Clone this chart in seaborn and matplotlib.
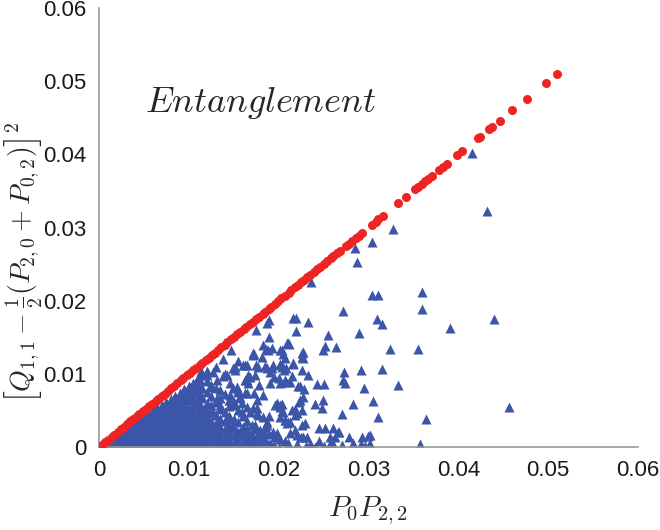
import pandas as pd
import matplotlib
matplotlib.use("Agg")
import matplotlib.pyplot as plt
import seaborn as sns

# red dots: states on the boundary, each sits on the diagonal (x == y)
red_diag = [
    0.0000, 0.0003, 0.0007, 0.0010, 0.0014, 0.0017, 0.0021, 0.0024, 0.0028, 0.0031,
    0.0035, 0.0038, 0.0042, 0.0045, 0.0049, 0.0052, 0.0056, 0.0059, 0.0063, 0.0066,
    0.0070, 0.0073, 0.0077, 0.0080, 0.0084, 0.0087, 0.0091, 0.0094, 0.0098, 0.0101,
    0.0105, 0.0108, 0.0112, 0.0115, 0.0119, 0.0122, 0.0126, 0.0129, 0.0133, 0.0136,
    0.0140, 0.0143, 0.0147, 0.0150, 0.0154, 0.0157, 0.0161, 0.0164, 0.0168, 0.0171,
    0.0175, 0.0178, 0.0182, 0.0185, 0.0189, 0.0192, 0.0196, 0.0199, 0.0203, 0.0207,
    0.0211, 0.0214, 0.0218, 0.0221, 0.0225, 0.0228, 0.0232, 0.0235, 0.0239, 0.0243,
    0.0246, 0.0250, 0.0254, 0.0258, 0.0261, 0.0265, 0.0268, 0.0275, 0.0278, 0.0282,
    0.0286, 0.0289, 0.0293, 0.0304, 0.0308, 0.0311, 0.0316, 0.0333, 0.0342, 0.0352,
    0.0355, 0.0360, 0.0363, 0.0366, 0.0371, 0.0379, 0.0383, 0.0387, 0.0399, 0.0404,
    0.0422, 0.0424, 0.0434, 0.0437, 0.0446, 0.0460, 0.0476, 0.0498, 0.0510,
]

# blue triangles: dense cloud near the origin
blue_dense = [
    (0.0005, 0.0000), (0.0005, 0.0003), (0.0010, 0.0000), (0.0010, 0.0004), (0.0010, 0.0008),
    (0.0015, 0.0000), (0.0015, 0.0005), (0.0015, 0.0010), (0.0020, 0.0000), (0.0020, 0.0006),
    (0.0020, 0.0012), (0.0020, 0.0017), (0.0025, 0.0002), (0.0025, 0.0008), (0.0025, 0.0014),
    (0.0025, 0.0020), (0.0030, 0.0000), (0.0030, 0.0006), (0.0030, 0.0012), (0.0030, 0.0018),
    (0.0030, 0.0024), (0.0035, 0.0003), (0.0035, 0.0009), (0.0035, 0.0015), (0.0035, 0.0021),
    (0.0035, 0.0028), (0.0040, 0.0000), (0.0040, 0.0006), (0.0040, 0.0012), (0.0040, 0.0018),
    (0.0040, 0.0024), (0.0040, 0.0031), (0.0040, 0.0035), (0.0045, 0.0003), (0.0045, 0.0009),
    (0.0045, 0.0015), (0.0045, 0.0021), (0.0045, 0.0027), (0.0045, 0.0033), (0.0045, 0.0039),
    (0.0050, 0.0000), (0.0050, 0.0006), (0.0050, 0.0012), (0.0050, 0.0018), (0.0050, 0.0024),
    (0.0050, 0.0030), (0.0050, 0.0036), (0.0050, 0.0043), (0.0055, 0.0003), (0.0055, 0.0009),
    (0.0055, 0.0015), (0.0055, 0.0021), (0.0055, 0.0027), (0.0055, 0.0033), (0.0055, 0.0039),
    (0.0055, 0.0046), (0.0060, 0.0000), (0.0060, 0.0006), (0.0060, 0.0012), (0.0060, 0.0018),
    (0.0060, 0.0024), (0.0060, 0.0030), (0.0060, 0.0036), (0.0060, 0.0042), (0.0060, 0.0050),
    (0.0065, 0.0003), (0.0065, 0.0009), (0.0065, 0.0015), (0.0065, 0.0021), (0.0065, 0.0027),
    (0.0065, 0.0033), (0.0065, 0.0040), (0.0065, 0.0047), (0.0065, 0.0054), (0.0070, 0.0000),
    (0.0070, 0.0006), (0.0070, 0.0012), (0.0070, 0.0018), (0.0070, 0.0024), (0.0070, 0.0030),
    (0.0070, 0.0037), (0.0070, 0.0044), (0.0070, 0.0051), (0.0070, 0.0058), (0.0075, 0.0003),
    (0.0075, 0.0009), (0.0075, 0.0015), (0.0075, 0.0022), (0.0075, 0.0029), (0.0075, 0.0035),
    (0.0075, 0.0042), (0.0075, 0.0049), (0.0075, 0.0056), (0.0075, 0.0062), (0.0080, 0.0000),
    (0.0080, 0.0006), (0.0080, 0.0012), (0.0080, 0.0019), (0.0080, 0.0026), (0.0080, 0.0033),
    (0.0080, 0.0040), (0.0080, 0.0047), (0.0080, 0.0054), (0.0080, 0.0060), (0.0080, 0.0066),
    (0.0085, 0.0003), (0.0085, 0.0009), (0.0085, 0.0016), (0.0085, 0.0023), (0.0085, 0.0031),
    (0.0085, 0.0038), (0.0085, 0.0045), (0.0085, 0.0052), (0.0085, 0.0058), (0.0085, 0.0064),
    (0.0085, 0.0070), (0.0090, 0.0000), (0.0090, 0.0006), (0.0090, 0.0013), (0.0090, 0.0020),
    (0.0090, 0.0028), (0.0090, 0.0036), (0.0090, 0.0043), (0.0090, 0.0050), (0.0090, 0.0057),
    (0.0090, 0.0062), (0.0090, 0.0068), (0.0090, 0.0074), (0.0095, 0.0003), (0.0095, 0.0010),
    (0.0095, 0.0017), (0.0095, 0.0025), (0.0095, 0.0033), (0.0095, 0.0041), (0.0095, 0.0048),
    (0.0095, 0.0055), (0.0095, 0.0060), (0.0095, 0.0066), (0.0095, 0.0072), (0.0095, 0.0079),
    (0.0100, 0.0000), (0.0100, 0.0006), (0.0100, 0.0013), (0.0100, 0.0021), (0.0100, 0.0029),
    (0.0100, 0.0038), (0.0100, 0.0045), (0.0100, 0.0053), (0.0100, 0.0064), (0.0100, 0.0070),
    (0.0100, 0.0076), (0.0100, 0.0084), (0.0105, 0.0003), (0.0105, 0.0010), (0.0105, 0.0017),
    (0.0105, 0.0025), (0.0105, 0.0034), (0.0105, 0.0042), (0.0105, 0.0050), (0.0105, 0.0058),
    (0.0105, 0.0067), (0.0105, 0.0075), (0.0105, 0.0088), (0.0110, 0.0000), (0.0110, 0.0007),
    (0.0110, 0.0014), (0.0110, 0.0022), (0.0110, 0.0030), (0.0110, 0.0039), (0.0110, 0.0047),
    (0.0110, 0.0056), (0.0110, 0.0063), (0.0110, 0.0072), (0.0110, 0.0086), (0.0110, 0.0094),
    (0.0115, 0.0003), (0.0115, 0.0010), (0.0115, 0.0018), (0.0115, 0.0026), (0.0115, 0.0035),
    (0.0115, 0.0044), (0.0115, 0.0053), (0.0115, 0.0068), (0.0115, 0.0080), (0.0115, 0.0098),
    (0.0120, 0.0000), (0.0120, 0.0007), (0.0120, 0.0014), (0.0120, 0.0022), (0.0120, 0.0031),
    (0.0120, 0.0040), (0.0120, 0.0050), (0.0120, 0.0060), (0.0120, 0.0075), (0.0120, 0.0090),
    (0.0120, 0.0104), (0.0125, 0.0003), (0.0125, 0.0010), (0.0125, 0.0018), (0.0125, 0.0027),
    (0.0125, 0.0036), (0.0125, 0.0046), (0.0125, 0.0058), (0.0125, 0.0070), (0.0125, 0.0085),
    (0.0130, 0.0000), (0.0130, 0.0007), (0.0130, 0.0015), (0.0130, 0.0023), (0.0130, 0.0033),
    (0.0130, 0.0044), (0.0130, 0.0062), (0.0130, 0.0080), (0.0130, 0.0110), (0.0135, 0.0003),
    (0.0135, 0.0011), (0.0135, 0.0019), (0.0135, 0.0028), (0.0135, 0.0038), (0.0135, 0.0052),
    (0.0135, 0.0067), (0.0140, 0.0000), (0.0140, 0.0007), (0.0140, 0.0015), (0.0140, 0.0024),
    (0.0140, 0.0035), (0.0140, 0.0048), (0.0140, 0.0072), (0.0140, 0.0100), (0.0145, 0.0003),
    (0.0145, 0.0011), (0.0145, 0.0020), (0.0145, 0.0030), (0.0145, 0.0042), (0.0145, 0.0056),
    (0.0150, 0.0000), (0.0150, 0.0007), (0.0150, 0.0016), (0.0150, 0.0026), (0.0150, 0.0038),
    (0.0150, 0.0062), (0.0155, 0.0003), (0.0155, 0.0011), (0.0155, 0.0021), (0.0155, 0.0034),
    (0.0155, 0.0050), (0.0160, 0.0000), (0.0160, 0.0007), (0.0160, 0.0016), (0.0160, 0.0028),
    (0.0160, 0.0043), (0.0165, 0.0003), (0.0165, 0.0011), (0.0165, 0.0024), (0.0165, 0.0036),
    (0.0170, 0.0000), (0.0170, 0.0007), (0.0170, 0.0018), (0.0170, 0.0030), (0.0175, 0.0003),
    (0.0175, 0.0012), (0.0175, 0.0024), (0.0180, 0.0000), (0.0180, 0.0007), (0.0180, 0.0016),
    (0.0185, 0.0003), (0.0185, 0.0011), (0.0190, 0.0000), (0.0190, 0.0006), (0.0195, 0.0003),
    (0.0200, 0.0000), (0.0210, 0.0002), (0.0220, 0.0000), (0.0220, 0.0004), (0.0230, 0.0002),
    (0.0240, 0.0000), (0.0235, 0.0004), (0.0245, 0.0008), (0.0250, 0.0002), (0.0270, 0.0003),
    (0.0283, 0.0005), (0.0296, 0.0001),
]

# blue triangles: scattered points further out
blue_sparse = [
    (0.0415, 0.0402), (0.0432, 0.0323), (0.0440, 0.0175), (0.0391, 0.0163), (0.0456, 0.0055),
    (0.0327, 0.0298), (0.0304, 0.0280), (0.0304, 0.0208), (0.0311, 0.0208), (0.0360, 0.0212),
    (0.0360, 0.0189), (0.0309, 0.0175), (0.0315, 0.0168), (0.0324, 0.0134), (0.0355, 0.0134),
    (0.0315, 0.0107), (0.0333, 0.0085), (0.0305, 0.0063), (0.0311, 0.0041), (0.0364, 0.0038),
    (0.0357, 0.0004), (0.0302, 0.0004), (0.0302, 0.0016), (0.0272, 0.0186), (0.0289, 0.0156),
    (0.0264, 0.0137), (0.0273, 0.0102), (0.0292, 0.0105), (0.0272, 0.0092), (0.0274, 0.0087),
    (0.0295, 0.0081), (0.0283, 0.0059), (0.0270, 0.0045), (0.0260, 0.0026), (0.0267, 0.0020),
    (0.0278, 0.0013), (0.0293, 0.0013), (0.0299, 0.0015), (0.0257, 0.0013), (0.0263, 0.0013),
    (0.0292, 0.0004), (0.0301, 0.0003), (0.0260, 0.0004), (0.0285, 0.0272), (0.0287, 0.0253),
    (0.0236, 0.0226), (0.0216, 0.0176), (0.0219, 0.0176), (0.0233, 0.0171), (0.0219, 0.0159),
    (0.0255, 0.0153), (0.0212, 0.0141), (0.0252, 0.0138), (0.0249, 0.0133), (0.0227, 0.0130),
    (0.0226, 0.0123), (0.0204, 0.0133), (0.0207, 0.0122), (0.0216, 0.0113), (0.0204, 0.0109),
    (0.0215, 0.0097), (0.0233, 0.0098), (0.0207, 0.0092), (0.0243, 0.0086), (0.0250, 0.0086),
    (0.0222, 0.0083), (0.0228, 0.0079), (0.0227, 0.0068), (0.0223, 0.0062), (0.0249, 0.0064),
    (0.0240, 0.0059), (0.0248, 0.0053), (0.0204, 0.0059), (0.0218, 0.0052), (0.0220, 0.0046),
    (0.0204, 0.0049), (0.0207, 0.0037), (0.0210, 0.0034), (0.0229, 0.0033), (0.0218, 0.0023),
    (0.0245, 0.0026), (0.0252, 0.0026), (0.0266, 0.0020), (0.0225, 0.0014), (0.0232, 0.0014),
    (0.0237, 0.0000), (0.0257, 0.0004), (0.0207, 0.0008), (0.0210, 0.0005),
    (0.0189, 0.0174), (0.0187, 0.0169), (0.0175, 0.0160), (0.0189, 0.0150), (0.0209, 0.0142),
    (0.0147, 0.0133), (0.0171, 0.0128), (0.0186, 0.0134), (0.0188, 0.0133), (0.0201, 0.0133),
    (0.0138, 0.0120), (0.0155, 0.0118), (0.0165, 0.0112), (0.0175, 0.0112), (0.0177, 0.0109),
    (0.0187, 0.0108), (0.0194, 0.0112), (0.0201, 0.0113), (0.0208, 0.0108), (0.0151, 0.0109),
    (0.0114, 0.0104), (0.0127, 0.0102), (0.0138, 0.0097), (0.0168, 0.0096), (0.0190, 0.0102),
    (0.0195, 0.0096), (0.0200, 0.0094), (0.0208, 0.0089), (0.0109, 0.0092), (0.0146, 0.0087),
    (0.0165, 0.0092), (0.0178, 0.0085), (0.0105, 0.0082), (0.0110, 0.0078), (0.0124, 0.0082),
    (0.0135, 0.0078), (0.0155, 0.0078), (0.0165, 0.0074), (0.0095, 0.0078), (0.0145, 0.0064),
    (0.0156, 0.0067), (0.0176, 0.0064), (0.0196, 0.0057), (0.0201, 0.0057), (0.0171, 0.0053),
    (0.0159, 0.0048), (0.0176, 0.0046), (0.0189, 0.0042), (0.0146, 0.0040), (0.0201, 0.0041),
    (0.0187, 0.0030), (0.0209, 0.0033), (0.0174, 0.0027), (0.0179, 0.0020), (0.0185, 0.0019),
    (0.0189, 0.0018), (0.0165, 0.0018), (0.0196, 0.0014), (0.0201, 0.0011), (0.0168, 0.0011),
    (0.0173, 0.0127), (0.0181, 0.0123), (0.0205, 0.0127), (0.0226, 0.0128), (0.0163, 0.0112),
    (0.0185, 0.0111), (0.0193, 0.0108), (0.0204, 0.0112), (0.0206, 0.0105), (0.0216, 0.0115),
    (0.0227, 0.0122), (0.0226, 0.0105), (0.0151, 0.0105), (0.0166, 0.0098), (0.0174, 0.0098),
    (0.0190, 0.0087), (0.0201, 0.0087), (0.0213, 0.0089), (0.0224, 0.0083), (0.0163, 0.0092),
    (0.0166, 0.0087), (0.0154, 0.0082), (0.0155, 0.0075), (0.0163, 0.0074), (0.0172, 0.0074),
    (0.0183, 0.0071), (0.0198, 0.0060), (0.0201, 0.0055), (0.0205, 0.0048), (0.0215, 0.0051),
    (0.0224, 0.0064), (0.0226, 0.0051), (0.0218, 0.0044), (0.0146, 0.0064), (0.0151, 0.0057),
    (0.0159, 0.0060), (0.0165, 0.0055), (0.0168, 0.0048), (0.0176, 0.0053), (0.0177, 0.0044),
    (0.0183, 0.0041), (0.0187, 0.0034), (0.0185, 0.0027), (0.0207, 0.0037), (0.0213, 0.0034),
    (0.0226, 0.0030), (0.0174, 0.0030), (0.0179, 0.0023), (0.0194, 0.0020), (0.0198, 0.0019),
    (0.0213, 0.0019), (0.0220, 0.0016), (0.0227, 0.0014),
    (0.0183, 0.0139), (0.0193, 0.0135), (0.0210, 0.0142), (0.0171, 0.0126), (0.0160, 0.0112),
    (0.0149, 0.0108), (0.0112, 0.0092), (0.0120, 0.0098), (0.0131, 0.0092), (0.0142, 0.0098),
    (0.0149, 0.0081), (0.0146, 0.0071), (0.0157, 0.0068), (0.0131, 0.0067), (0.0135, 0.0057),
    (0.0127, 0.0048), (0.0112, 0.0067), (0.0109, 0.0057), (0.0118, 0.0048), (0.0098, 0.0075),
    (0.0092, 0.0067), (0.0082, 0.0057), (0.0090, 0.0048), (0.0082, 0.0040), (0.0098, 0.0034),
    (0.0109, 0.0033), (0.0120, 0.0034), (0.0131, 0.0030), (0.0142, 0.0040), (0.0149, 0.0030),
    (0.0157, 0.0020), (0.0165, 0.0012), (0.0171, 0.0007), (0.0182, 0.0003),
]

tick_values = [0.0, 0.01, 0.02, 0.03, 0.04, 0.05, 0.06]
tick_labels = ["0", "0.01", "0.02", "0.03", "0.04", "0.05", "0.06"]

blue_df = pd.DataFrame(blue_dense + blue_sparse, columns=["x", "y"])
red_df = pd.DataFrame({"x": red_diag, "y": red_diag})

sns.set_style("white")
plt.rcParams["font.family"] = ["Liberation Sans", "DejaVu Sans"]
plt.rcParams["mathtext.fontset"] = "cm"

fig = plt.figure(figsize=(6.6, 5.3), dpi=100)
ax = fig.add_axes([0.15, 0.1566, 0.8167, 0.8283])

sns.scatterplot(data=blue_df, x="x", y="y", marker="^", s=52, color="#3b55a8",
                linewidth=0, ax=ax)
sns.scatterplot(data=red_df, x="x", y="y", marker="o", s=42, color="#ee2424",
                linewidth=0, ax=ax, zorder=3)

ax.set_xlim(0, 0.06)
ax.set_ylim(0, 0.06)
ax.set_xticks(tick_values)
ax.set_xticklabels(tick_labels)
ax.set_yticks(tick_values)
ax.set_yticklabels(tick_labels)
ax.tick_params(axis="both", direction="out", length=6, width=1, color="#999999",
               labelsize=16, labelcolor="#1a1a1a", pad=3)

for side in ["top", "right"]:
    ax.spines[side].set_visible(False)
for side in ["left", "bottom"]:
    ax.spines[side].set_color("#999999")
    ax.spines[side].set_linewidth(1.2)

ax.set_xlabel(r"$P_0P_{2,2}$", fontsize=21, labelpad=10)
ax.set_ylabel(r"$\left[Q_{1,1}-\frac{1}{2}(P_{2,0}+P_{0,2})\right]^2$",
              fontsize=20)
ax.yaxis.set_label_coords(-0.102, 0.42)

ax.text(0.0051, 0.047, r"$Entanglement$", fontsize=26, ha="left", va="center")

fig.savefig("out.png", dpi=100)
